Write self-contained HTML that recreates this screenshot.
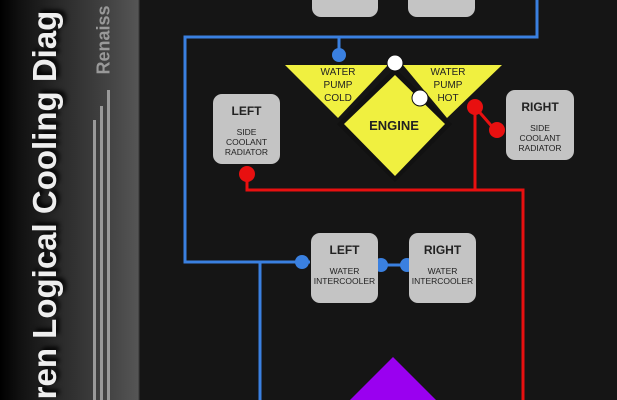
<!DOCTYPE html>
<html><head><style>
body{margin:0;width:617px;height:400px;overflow:hidden;background:#151515;font-family:"Liberation Sans",sans-serif;position:relative}
.panel{position:absolute;left:0;top:0;width:140px;height:400px;background:linear-gradient(90deg,#000 0px,#111 20px,#2a2a2a 60px,#444 110px,#555 138px,#1a1a1a 140px)}
.box{position:absolute;background:#c4c4c4;border-radius:9px;text-align:center;color:#222}
.box b{display:block;font-size:12px;margin-top:10px}
.box span{display:block;font-size:8.5px;margin-top:9px;line-height:10px}
</style></head><body>
<div class="panel"></div>
<div style="position:absolute;left:45px;top:205px;transform:translate(-50%,-50%) rotate(-90deg);white-space:nowrap;color:#eee;font-weight:bold;font-size:33px;text-shadow:3px 3px 4px #000">ren Logical Cooling Diag</div>
<div style="position:absolute;left:104px;top:40px;transform:translate(-50%,-50%) rotate(-90deg);white-space:nowrap;color:#999;font-weight:bold;font-size:18px">Renaiss</div>
<div style="position:absolute;left:93px;top:120px;width:3px;height:280px;background:#999"></div>
<div style="position:absolute;left:100px;top:106px;width:3px;height:294px;background:#999"></div>
<div style="position:absolute;left:107px;top:90px;width:3px;height:310px;background:#999"></div>

<div class="box" style="left:312px;top:-20px;width:66px;height:37px"></div>
<div class="box" style="left:408px;top:-20px;width:67px;height:37px"></div>

<svg width="617" height="400" style="position:absolute;left:0;top:0">
<g stroke="#3a80e0" stroke-width="3" fill="none">
<path d="M537 0V37H185V262H310"/><path d="M260 262V400"/><path d="M339 37V55"/><path d="M381 265H407"/>
</g>
<g fill="#3a80e0"><circle cx="339" cy="55" r="7"/><circle cx="302" cy="262" r="7"/><circle cx="381" cy="265" r="7"/><circle cx="407" cy="265" r="7"/></g>
<polygon points="285,65 388,65 338,118" fill="#f0f040"/>
<polygon points="403,65 502,65 447,118" fill="#f0f040"/>
<polygon points="395,68 452,124 395,182 337,124" fill="#111"/>
<polygon points="395,75 445,124 395,176 344,124" fill="#f0f040"/>
<g fill="#222" font-size="10" text-anchor="middle" font-family="Liberation Sans">
<text x="338" y="75">WATER</text><text x="338" y="88">PUMP</text><text x="338" y="101">COLD</text>
<text x="448" y="75">WATER</text><text x="448" y="88">PUMP</text><text x="448" y="101">HOT</text>
<text x="394" y="130" font-size="13" font-weight="bold">ENGINE</text>
</g>
<g fill="#fff" stroke="#111" stroke-width="1"><circle cx="395" cy="63" r="8"/><circle cx="420" cy="98" r="8"/></g>
<g stroke="#e81010" stroke-width="3" fill="none">
<path d="M247 174V190H523V400"/><path d="M475 107V190"/><path d="M475 107L495 130"/>
</g>
<g fill="#e81010"><circle cx="475" cy="107" r="8"/><circle cx="497" cy="130" r="8"/><circle cx="247" cy="174" r="8"/></g>
<polygon points="393,357 440,404 346,404" fill="#9a00f0"/>
</svg>

<div class="box" style="left:213px;top:94px;width:67px;height:70px"><b>LEFT</b><span>SIDE<br>COOLANT<br>RADIATOR</span></div>
<div class="box" style="left:506px;top:90px;width:68px;height:70px"><b>RIGHT</b><span>SIDE<br>COOLANT<br>RADIATOR</span></div>
<div class="box" style="left:311px;top:233px;width:67px;height:70px"><b>LEFT</b><span>WATER<br>INTERCOOLER</span></div>
<div class="box" style="left:409px;top:233px;width:67px;height:70px"><b>RIGHT</b><span>WATER<br>INTERCOOLER</span></div>
</body></html>
